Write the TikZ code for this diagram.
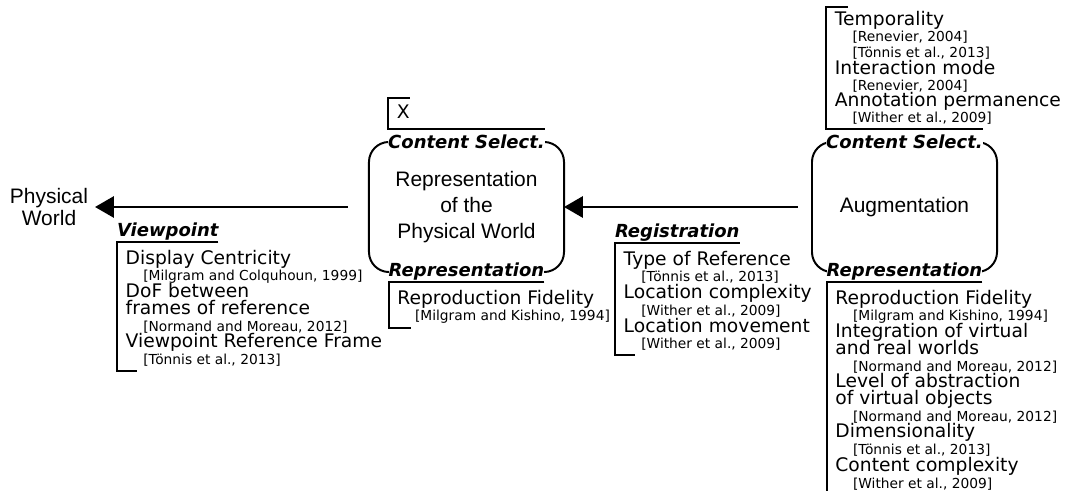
\documentclass[tikz,border=0pt]{standalone}
\usepackage{fontspec}
\setmainfont{Liberation Sans}
\newfontfamily\dvfont{DejaVu Sans}
\usetikzlibrary{arrows.meta}
\setlength{\lineskiplimit}{-20pt}

\newcommand{\src}[1]{\hspace*{12.5pt}{\fontsize{9.8}{11.9}\selectfont #1}}

\begin{document}
\begin{tikzpicture}
        [x = 0.025cm, y = -0.025cm, >= {Triangle[length = 0.47cm, width = 0.53cm]},
         every node/.style = {outer sep = 0pt},
         stage/.style = {draw, line width = 1.4pt, rounded corners = 0.5cm,
           minimum height = 3.25cm, align = center,
           font = \fontsize{14.9}{18.5}\selectfont},
         facet/.style = {fill = white, inner xsep = 0pt, inner ysep = 1pt,
           font = \dvfont\bfseries\itshape\fontsize{12.8}{14}\selectfont},
         facetlist/.style = {align = left, inner xsep = 6.2pt, inner ysep = 3pt,
           font = \dvfont\fontsize{13.3}{11.9}\selectfont},
         bracket/.style = {line width = 1.4pt},
         flow/.style = {->, line width = 1.4pt}]
        \useasboundingbox (0,0) rectangle (1066,491);
        % stages of the pipeline
        \node[align = center, inner xsep = 5pt, font = \fontsize{14.9}{16.3}\selectfont] (phys) at (49,207) {Physical\\World};
        \node[stage, minimum width = 4.875cm] (repbox) at (466.5,207) {Representation\\of the\\Physical World};
        \node[stage, minimum width = 4.625cm] (augbox) at (904.5,207) {Augmentation};
        \draw[flow] ([xshift = -0.35cm]augbox.west) -- (repbox.east);
        \draw[flow] ([xshift = -0.525cm]repbox.west) -- (phys.east);
        % facet titles
        \node[facet, anchor = base west] (vp) at (117,237) {Viewpoint};
        \node[facet, anchor = base west] (reg) at (615,238) {Registration};
        \node[facet] (repcs) at (repbox.north) {Content Select.};
        \node[facet] (reprep) at (repbox.south) {Representation};
        \node[facet] (augcs) at (augbox.north) {Content Select.};
        \node[facet] (augrep) at (augbox.south) {Representation};
        % lists below the titles
        \node[facetlist, anchor = north west] (vplist) at ([yshift = -2.5pt]vp.south west) {Display Centricity\\
          \src{[Milgram and Colquhoun, 1999]}\\
          DoF between\\
          frames of reference\\
          \src{[Normand and Moreau, 2012]}\\
          Viewpoint Reference Frame\\
          \src{[Tönnis et al., 2013]}};
        \draw[bracket] (vp.south east) -- (vp.south west) -- (vplist.south west) -- ++(20,0);
        \node[facetlist, anchor = north west] (reglist) at ([yshift = -2.5pt]reg.south west) {Type of Reference\\
          \src{[Tönnis et al., 2013]}\\
          Location complexity\\
          \src{[Wither et al., 2009]}\\
          Location movement\\
          \src{[Wither et al., 2009]}};
        \draw[bracket] (reg.south east) -- (reg.south west) -- (reglist.south west) -- ++(20,0);
        \node[facetlist, anchor = north west] (replist) at ([yshift = -2.5pt]reprep.south west) {Reproduction Fidelity\\
          \src{[Milgram and Kishino, 1994]}};
        \draw[bracket] (reprep.south east) -- (reprep.south west) -- (replist.south west) -- ++(22,0);
        \node[facetlist, anchor = north west] (augreplist) at ([yshift = -2.5pt]augrep.south west) {Reproduction Fidelity\\
          \src{[Milgram and Kishino, 1994]}\\
          Integration of virtual\\
          and real worlds\\
          \src{[Normand and Moreau, 2012]}\\
          Level of abstraction\\
          of virtual objects\\
          \src{[Normand and Moreau, 2012]}\\
          Dimensionality\\
          \src{[Tönnis et al., 2013]}\\
          Content complexity\\
          \src{[Wither et al., 2009]}};
        \draw[bracket] (augrep.south east) -- (augrep.south west) -- (augreplist.south west) -- ++(20,0);
        % lists above the titles
        \node[facetlist, inner ysep = 5pt, anchor = south west] (xlist) at ([yshift = 5.5pt]repcs.north west) {X};
        \draw[bracket] ([yshift = 3.5pt]repcs.north east) -- ([yshift = 3.5pt]repcs.north west) -- (xlist.north west) -- ++(22,0);
        \node[facetlist, font = \dvfont\fontsize{13.3}{11.5}\selectfont, anchor = south west] (augcslist) at ([yshift = 3.5pt]augcs.north west) {Temporality\\
          \src{[Renevier, 2004]}\\
          \src{[Tönnis et al., 2013]}\\
          Interaction mode\\
          \src{[Renevier, 2004]}\\
          Annotation permanence\\
          \src{[Wither et al., 2009]}};
        \draw[bracket] ([yshift = 3.5pt]augcs.north east) -- ([yshift = 3.5pt]augcs.north west) -- (augcslist.north west) -- ++(22,0);
      \end{tikzpicture}
\end{document}
